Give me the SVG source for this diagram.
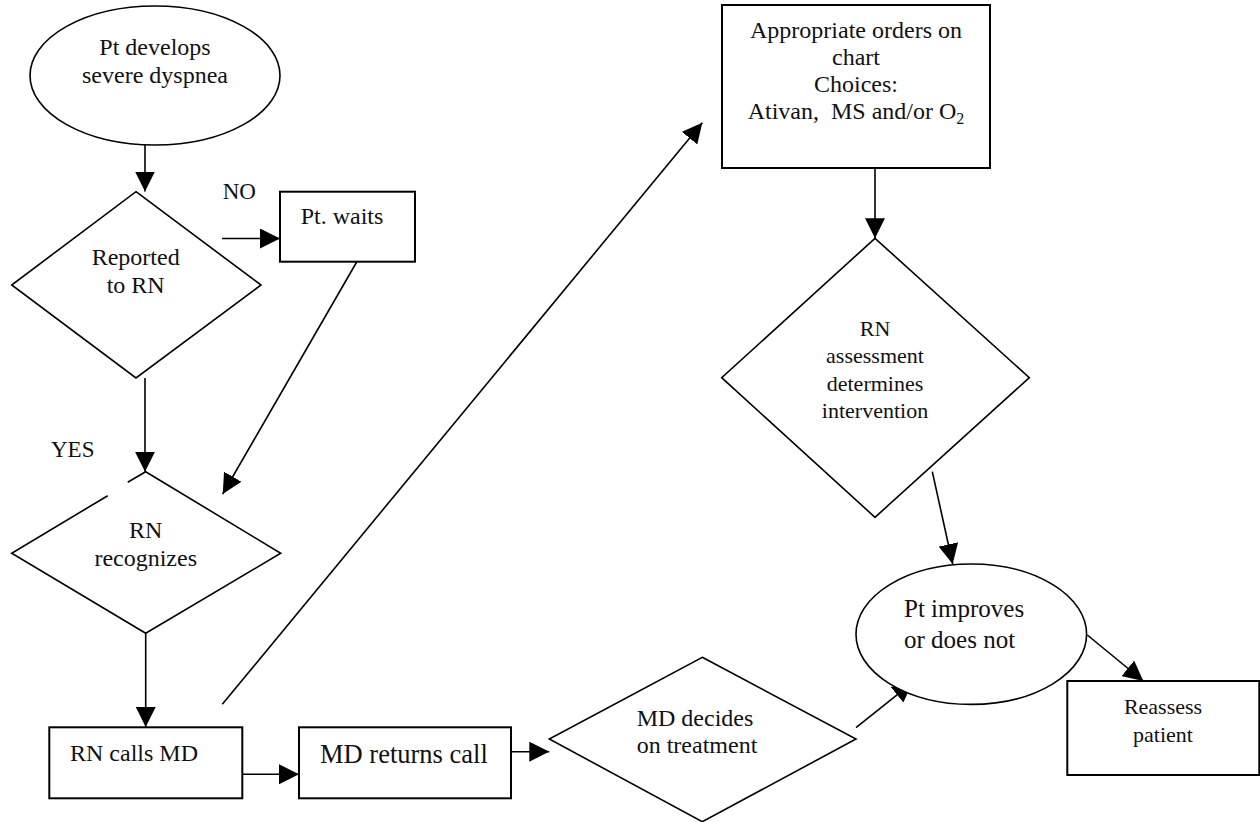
<svg xmlns="http://www.w3.org/2000/svg" width="1260" height="822" viewBox="0 0 1260 822">
  <defs>
    <marker id="arrow" markerUnits="userSpaceOnUse" markerWidth="20" markerHeight="20" refX="20" refY="10" orient="auto">
      <path d="M0,0 L20,10 L0,20 z" fill="#000"/>
    </marker>
    <style>
      .shape { fill: #fff; stroke: #000; stroke-width: 1.6; }
      .box { fill: #fff; stroke: #000; stroke-width: 2; }
      .edge { fill: none; stroke: #000; stroke-width: 1.6; marker-end: url(#arrow); }
      .plain { fill: none; stroke: #000; stroke-width: 1.6; }
      text { font-family: "Liberation Serif", "Times New Roman", serif; font-size: 24px; fill: #111; }
      .c { text-anchor: middle; }
    </style>
  </defs>

  <rect width="1260" height="822" fill="#fff"/>

  <!-- connectors -->
  <g id="connectors">
    <line class="edge" x1="145" y1="145" x2="145" y2="191.5"/>
    <line class="edge" x1="222" y1="238.5" x2="280" y2="238.5"/>
    <line class="edge" x1="356.7" y1="262" x2="222.7" y2="494"/>
    <line class="edge" x1="145" y1="378" x2="145" y2="471.7"/>
    <line class="edge" x1="145.7" y1="633.3" x2="145.7" y2="727"/>
    <line class="edge" x1="222.3" y1="704.3" x2="702.3" y2="122.7"/>
    <line class="edge" x1="242.3" y1="774.3" x2="299" y2="774.3"/>
    <line class="edge" x1="511" y1="751.7" x2="549.3" y2="751.7"/>
    <line class="edge" x1="875" y1="168" x2="875" y2="238.3"/>
    <line class="edge" x1="932.3" y1="471.7" x2="952.7" y2="564"/>
    <line class="edge" x1="856" y1="727.7" x2="912.7" y2="682.3"/>
    <line class="edge" x1="1087.3" y1="635" x2="1143.3" y2="681"/>
  </g>

  <!-- edge labels -->
  <text x="222.7" y="199.3" style="font-size:23px">NO</text>
  <text x="51" y="456.7" style="font-size:23px">YES</text>

  <g id="start">
    <ellipse class="shape" cx="155" cy="75.5" rx="125" ry="69.5"/>
    <text class="c" x="155" y="55">Pt develops</text>
    <text class="c" x="155" y="83">severe dyspnea</text>
  </g>

  <g id="reported">
    <polygon class="shape" points="136,191.7 261,285 136,378 11.7,285"/>
    <text class="c" x="135.7" y="265">Reported</text>
    <text class="c" x="135.7" y="292.7">to RN</text>
  </g>

  <g id="waits">
    <rect class="box" x="280" y="191.7" width="135" height="70"/>
    <text x="300.7" y="224.3">Pt. waits</text>
  </g>

  <g id="recognizes">
    <path class="plain" d="M127.7,482.3 L145.7,471.7 L280.7,553.3 L145.7,633.3 L11.7,553.3 L107.7,495.7"/>
    <text class="c" x="145.7" y="538.3">RN</text>
    <text class="c" x="145.7" y="566.3">recognizes</text>
  </g>

  <g id="calls">
    <rect class="box" x="49.3" y="727.3" width="193" height="71"/>
    <text x="70" y="760.7">RN calls MD</text>
  </g>

  <g id="returns">
    <rect class="box" x="299" y="727.3" width="212" height="71"/>
    <text x="320" y="762.7" style="font-size:26.5px">MD returns call</text>
  </g>

  <g id="decides">
    <polygon class="shape" points="702.3,657.3 856,739 702.3,821.7 549.3,739"/>
    <text x="636.7" y="726">MD decides</text>
    <text x="636.7" y="753.3">on treatment</text>
  </g>

  <g id="orders">
    <rect class="box" x="722" y="5" width="268" height="163"/>
    <text class="c" x="856" y="37.5">Appropriate orders on</text>
    <text class="c" x="856" y="64.5">chart</text>
    <text class="c" x="856" y="91.5">Choices:</text>
    <text class="c" x="856" y="119" style="white-space:pre">Ativan,  MS and/or O<tspan dy="5" style="font-size:16px">2</tspan></text>
  </g>

  <g id="assessment">
    <polygon class="shape" points="875,238.3 1029.3,377.7 875,517.3 721.7,377.7"/>
    <text class="c" x="875" y="336" style="font-size:22px">RN</text>
    <text class="c" x="875" y="363" style="font-size:22px">assessment</text>
    <text class="c" x="875" y="390.5" style="font-size:22px">determines</text>
    <text class="c" x="875" y="417.5" style="font-size:22px">intervention</text>
  </g>

  <g id="outcome">
    <ellipse class="shape" cx="971.3" cy="634.2" rx="115.3" ry="70.2"/>
    <text x="904" y="616.7" style="font-size:25px">Pt improves</text>
    <text x="904" y="647.7" style="font-size:25px">or does not</text>
  </g>

  <g id="reassess">
    <rect class="box" x="1067.3" y="681" width="192" height="94"/>
    <text class="c" x="1163" y="714.3" style="font-size:22px">Reassess</text>
    <text class="c" x="1163" y="741.7" style="font-size:22px">patient</text>
  </g>
</svg>
